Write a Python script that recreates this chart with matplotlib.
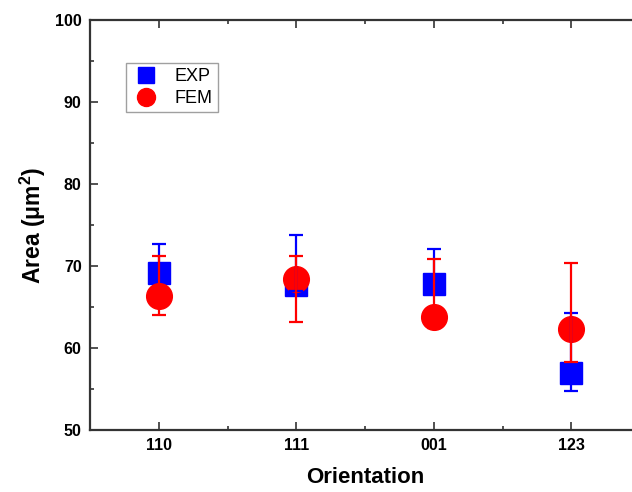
import numpy as np
import matplotlib.pyplot as plt

plt.rcParams['font.family'] = 'Liberation Sans'
plt.rcParams['mathtext.fontset'] = 'custom'
plt.rcParams['mathtext.rm'] = 'Liberation Sans'
plt.rcParams['mathtext.it'] = 'Liberation Sans:italic'

orientations = ['110', '111', '001', '123']

exp_mean = [69.1, 67.7, 67.8, 57.0]
exp_upper = [72.7, 73.8, 72.1, 64.3]
exp_lower = [68.2, 67.0, 66.9, 54.8]

fem_mean = [66.3, 68.4, 63.8, 62.3]
fem_upper = [71.2, 71.2, 70.9, 70.4]
fem_lower = [64.0, 63.2, 62.4, 58.3]

x = np.arange(1, len(orientations) + 1)

fig = plt.figure(figsize=(6.32, 4.92), dpi=100)
ax = fig.add_axes([90 / 632, 62 / 492, 550 / 632, 410 / 492])

exp_err = [np.array(exp_mean) - np.array(exp_lower), np.array(exp_upper) - np.array(exp_mean)]
fem_err = [np.array(fem_mean) - np.array(fem_lower), np.array(fem_upper) - np.array(fem_mean)]

# markers first, error bars on top
ax.plot(x, exp_mean, 's', color='#0000ff', markersize=16.5, zorder=3, label='EXP')
ax.plot(x, fem_mean, 'o', color='#ff0000', markersize=18.5, zorder=4, label='FEM')
ax.errorbar(x, exp_mean, yerr=exp_err, fmt='none', ecolor='#0000ff',
            elinewidth=1.6, capsize=5, capthick=1.6, zorder=5)
ax.errorbar(x, fem_mean, yerr=fem_err, fmt='none', ecolor='#ff0000',
            elinewidth=1.6, capsize=5, capthick=1.6, zorder=6)

ax.set_xlim(0.5, 4.5)
ax.set_ylim(50, 100)
ax.set_xticks(x)
ax.set_xticklabels(orientations)
ax.set_xticks(x[:-1] + 0.5, minor=True)
ax.set_yticks(np.arange(50, 101, 10))
ax.set_yticks(np.arange(55, 100, 10), minor=True)

ax.tick_params(which='both', direction='in', top=True, right=True,
               width=1.2, color='#333333')
ax.tick_params(which='major', length=5.5, labelsize=11.5, pad=6)
ax.tick_params(which='minor', length=3)
for lbl in ax.get_xticklabels() + ax.get_yticklabels():
    lbl.set_fontweight('bold')
for sp in ax.spines.values():
    sp.set_linewidth(1.6)
    sp.set_color('#333333')

ax.set_xlabel('Orientation', fontsize=16, fontweight='bold', labelpad=10)
ax.set_ylabel(r'Area ($\mathregular{\mu m^2}$)', fontsize=16.5, fontweight='bold', labelpad=5)

leg = ax.legend(loc='upper left', bbox_to_anchor=(0.065, 0.895), borderaxespad=0,
                fontsize=13, frameon=True, fancybox=False, edgecolor='#888888',
                markerscale=0.7, handletextpad=0.8, labelspacing=0.25,
                borderpad=0.3, handlelength=1.6)
leg.get_frame().set_linewidth(1.0)

fig.savefig('out.png', dpi=100)
